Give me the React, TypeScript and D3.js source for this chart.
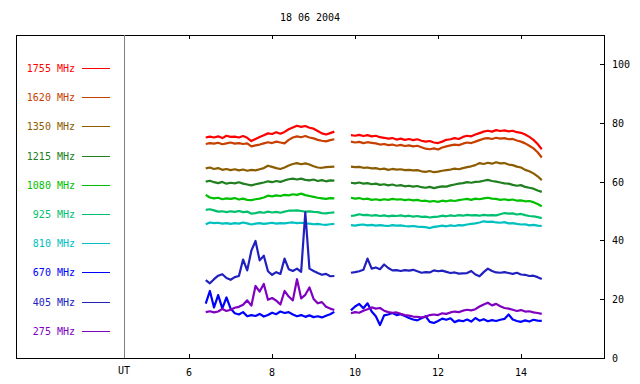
import React from 'react';
import * as d3 from 'd3';

// time axis (UT hours) for the two observing segments
const timesA = [6.4, 6.5, 6.6, 6.7, 6.8, 6.9, 7.0, 7.1, 7.2, 7.3, 7.4, 7.5, 7.6, 7.7, 7.8, 7.9, 8.0, 8.1, 8.2, 8.3, 8.4, 8.5, 8.6, 8.7, 8.8, 8.9, 9.0, 9.1, 9.2, 9.3, 9.4, 9.5];
const timesB = [9.9, 10.0, 10.1, 10.2, 10.3, 10.4, 10.5, 10.6, 10.7, 10.8, 10.9, 11.0, 11.1, 11.2, 11.3, 11.4, 11.5, 11.6, 11.7, 11.8, 11.9, 12.0, 12.1, 12.2, 12.3, 12.4, 12.5, 12.6, 12.7, 12.8, 12.9, 13.0, 13.1, 13.2, 13.3, 13.4, 13.5, 13.6, 13.7, 13.8, 13.9, 14.0, 14.1, 14.2, 14.3, 14.4, 14.5];

const xTicks = [6, 8, 10, 12, 14];
const yTicks = [0, 20, 40, 60, 80, 100];

const freqs = ['1755 MHz', '1620 MHz', '1350 MHz', '1215 MHz', '1080 MHz', '925 MHz', '810 MHz', '670 MHz', '405 MHz', '275 MHz'];
const colors = ['#ff0000', '#c84000', '#8c5c00', '#208020', '#00c000', '#00c070', '#00c0c0', '#0000ff', '#2020c0', '#8000c0'];

const f1755A = [75.0, 75.3, 75.0, 75.4, 74.8, 75.6, 75.2, 75.3, 75.0, 75.5, 74.9, 73.8, 74.5, 75.2, 75.8, 76.4, 76.2, 76.8, 76.3, 76.9, 77.8, 78.4, 79.0, 78.6, 78.9, 78.3, 78.0, 77.2, 76.4, 76.0, 76.5, 77.0];
const f1755B = [75.8, 75.6, 75.9, 75.5, 75.8, 75.4, 75.6, 75.1, 74.9, 74.6, 74.8, 74.3, 74.6, 74.2, 74.5, 74.1, 74.4, 73.9, 73.6, 73.8, 73.3, 73.1, 73.6, 74.2, 74.4, 74.8, 74.5, 75.2, 75.6, 75.4, 76.0, 76.5, 77.0, 77.3, 77.0, 77.5, 77.2, 77.4, 77.1, 77.3, 76.8, 76.6, 76.0, 75.2, 74.2, 72.8, 71.0];

const f1620A = [72.8, 73.1, 72.9, 73.2, 72.7, 73.0, 73.3, 72.9, 73.1, 72.8, 73.0, 72.0, 72.3, 72.6, 73.0, 73.4, 73.1, 73.6, 73.3, 73.0, 74.2, 75.0, 75.4, 75.1, 75.5, 75.0, 74.7, 74.2, 73.9, 73.7, 74.1, 74.4];
const f1620B = [73.6, 73.3, 73.5, 73.1, 73.4, 73.2, 73.0, 72.6, 72.8, 72.4, 72.6, 72.2, 72.5, 72.1, 72.3, 72.0, 72.2, 71.7, 71.2, 71.0, 71.3, 70.9, 71.6, 72.0, 72.3, 72.6, 72.4, 72.9, 73.3, 73.1, 73.6, 74.1, 74.6, 74.8, 74.5, 74.9, 74.6, 74.8, 74.4, 74.5, 74.0, 73.6, 73.0, 72.2, 71.3, 70.0, 68.2];

const f1350A = [64.5, 64.8, 64.3, 64.6, 64.0, 64.3, 63.9, 64.2, 63.8, 64.1, 63.7, 64.0, 63.8, 64.2, 64.6, 65.4, 65.0, 64.6, 64.3, 64.8, 65.5, 66.0, 66.3, 65.9, 66.2, 65.8, 65.2, 64.8, 64.7, 64.9, 65.0, 65.1];
const f1350B = [65.1, 64.9, 65.0, 64.7, 64.8, 64.5, 64.6, 64.2, 64.4, 64.0, 64.3, 64.1, 64.2, 63.9, 64.0, 63.8, 63.9, 63.5, 63.3, 63.6, 63.2, 63.4, 63.7, 63.9, 64.1, 64.4, 64.2, 64.6, 64.9, 65.2, 65.6, 66.3, 66.0, 66.4, 66.1, 66.6, 66.2, 66.3, 65.8, 65.6, 65.1, 64.8, 64.0, 63.5, 62.8, 61.8, 60.5];

const f1215A = [60.0, 60.3, 59.8, 59.5, 59.9, 59.3, 59.6, 59.4, 59.8, 59.3, 59.0, 58.7, 59.1, 59.4, 59.7, 60.1, 59.8, 60.2, 59.9, 60.4, 60.8, 61.0, 60.7, 61.0, 60.6, 60.4, 60.7, 60.2, 60.5, 60.1, 60.4, 60.3];
const f1215B = [59.6, 59.4, 59.7, 59.3, 59.5, 59.1, 59.3, 58.9, 59.1, 58.7, 59.0, 58.6, 58.8, 58.4, 58.6, 58.3, 58.5, 58.1, 57.9, 58.2, 57.8, 58.1, 58.4, 58.3, 58.7, 59.0, 59.3, 59.5, 59.8, 59.6, 59.9, 60.0, 60.3, 60.6, 60.2, 60.0, 59.7, 59.4, 59.3, 58.9, 58.6, 58.8, 58.2, 57.9, 57.6, 57.0, 56.5];

const f1080A = [55.5, 54.6, 54.3, 54.5, 54.0, 54.3, 54.1, 54.4, 53.9, 54.2, 53.8, 53.7, 54.0, 54.2, 54.6, 55.2, 55.0, 55.3, 55.1, 55.5, 55.3, 55.7, 55.5, 55.9, 55.4, 55.1, 54.8, 54.5, 54.3, 54.1, 54.4, 54.3];
const f1080B = [54.5, 54.2, 54.4, 54.0, 54.2, 53.8, 54.0, 53.7, 54.0, 53.8, 54.1, 53.9, 54.0, 53.7, 53.9, 53.6, 53.8, 53.4, 53.5, 53.2, 53.4, 53.1, 53.5, 53.3, 53.6, 53.4, 53.7, 53.9, 54.1, 53.8, 54.2, 54.0, 54.3, 54.5, 54.2, 54.1, 53.8, 54.0, 53.7, 53.9, 53.5, 53.6, 53.3, 53.4, 53.0, 52.4, 51.6];

const f925A = [50.4, 50.6, 50.2, 49.8, 49.9, 49.6, 49.9, 49.7, 50.0, 49.6, 49.8, 49.1, 49.3, 49.6, 49.4, 49.8, 49.5, 49.7, 49.4, 49.8, 50.1, 50.1, 50.2, 50.0, 49.8, 49.9, 49.7, 49.6, 49.3, 49.2, 49.4, 49.5];
const f925B = [48.3, 48.5, 48.9, 48.6, 48.7, 48.4, 48.6, 48.3, 48.5, 48.2, 48.4, 48.3, 48.5, 48.2, 48.4, 48.1, 48.3, 48.0, 48.1, 47.8, 48.0, 48.1, 48.4, 48.2, 48.5, 48.3, 48.6, 48.4, 48.7, 48.5, 48.6, 48.4, 48.7, 48.5, 48.6, 48.5, 48.9, 49.3, 49.1, 49.2, 48.8, 49.0, 48.6, 48.3, 48.2, 47.9, 47.6];

const f810A = [45.5, 46.1, 45.9, 46.0, 45.7, 45.9, 45.6, 45.9, 45.7, 46.1, 45.8, 45.4, 45.7, 45.9, 45.6, 45.8, 46.0, 45.7, 45.9, 45.8, 46.0, 46.1, 45.9, 46.0, 45.8, 45.7, 45.5, 45.6, 45.4, 45.3, 45.5, 45.6];
const f810B = [45.2, 45.0, 45.3, 45.4, 45.1, 45.3, 45.0, 45.2, 45.0, 44.9, 45.2, 45.0, 45.1, 44.9, 44.8, 44.9, 44.7, 44.6, 44.5, 44.2, 44.6, 44.8, 45.0, 44.8, 45.1, 44.9, 45.2, 45.1, 45.4, 45.6, 45.8, 46.1, 46.5, 46.3, 46.4, 46.1, 46.0, 46.2, 45.8, 45.9, 45.6, 45.4, 45.5, 45.1, 45.3, 45.0, 44.9];

const f670A = [18.5, 22.8, 17.2, 21.4, 16.9, 20.6, 16.8, 15.2, 14.8, 15.6, 14.2, 14.6, 14.3, 15.0, 14.1, 14.6, 15.4, 14.9, 15.8, 15.3, 15.6, 14.8, 14.2, 14.6, 14.0, 14.5, 13.9, 14.2, 13.8, 14.4, 14.9, 15.7];
const f670B = [16.2, 17.5, 18.4, 16.9, 18.6, 15.8, 14.2, 11.2, 14.5, 14.8, 15.3, 14.6, 14.9, 14.3, 13.6, 13.1, 12.8, 13.5, 14.2, 12.3, 11.9, 12.6, 13.4, 13.0, 13.5, 12.2, 12.8, 12.5, 13.1, 12.4, 13.6, 12.7, 13.2, 12.5, 12.9, 12.6, 13.0, 13.3, 14.8, 13.1, 12.6, 12.3, 12.8, 12.4, 13.0, 12.7, 12.6];

const f405A = [26.5, 25.4, 26.8, 28.0, 28.5, 27.2, 26.6, 27.5, 27.9, 33.5, 29.8, 36.5, 39.8, 33.2, 34.8, 29.5, 28.3, 29.2, 28.6, 33.8, 30.2, 29.6, 30.4, 29.3, 49.5, 30.4, 29.6, 28.9, 28.3, 28.6, 27.8, 27.9];
const f405B = [29.0, 29.2, 29.5, 30.0, 33.8, 30.4, 30.8, 30.2, 31.8, 30.6, 29.8, 29.9, 29.6, 29.9, 29.7, 30.0, 29.5, 29.0, 29.2, 29.1, 29.8, 29.5, 29.7, 29.3, 28.9, 29.1, 28.7, 28.8, 28.9, 29.6, 28.4, 27.8, 29.2, 30.4, 29.6, 29.1, 29.0, 29.2, 28.9, 28.6, 29.0, 28.4, 28.3, 27.9, 28.0, 27.5, 26.9];

const f275A = [15.6, 15.9, 15.5, 15.8, 16.7, 16.0, 16.4, 17.1, 17.4, 18.1, 19.6, 17.8, 24.5, 22.6, 25.2, 19.8, 20.4, 19.5, 18.2, 22.8, 20.9, 19.6, 26.8, 20.3, 21.5, 24.0, 20.1, 18.6, 19.0, 17.4, 16.8, 16.3];
const f275B = [15.2, 15.6, 15.4, 16.1, 16.6, 17.2, 16.8, 17.0, 16.1, 15.6, 15.4, 15.5, 15.0, 14.6, 14.4, 14.1, 14.0, 13.8, 14.0, 14.6, 14.8, 14.6, 15.2, 15.0, 15.5, 15.8, 15.6, 16.1, 16.4, 16.2, 16.6, 17.5, 18.2, 18.8, 17.9, 18.4, 17.6, 17.0, 16.8, 16.4, 16.0, 16.3, 15.8, 15.9, 15.5, 15.3, 15.0];

const seriesA = [f1755A, f1620A, f1350A, f1215A, f1080A, f925A, f810A, f670A, f405A, f275A];
const seriesB = [f1755B, f1620B, f1350B, f1215B, f1080B, f925B, f810B, f670B, f405B, f275B];

const W = 640;
const H = 384;
const FONT = '"DejaVu Sans Mono", monospace';

export default function App() {
  const frame = { left: 16, right: 604, top: 35, bottom: 358 };
  const utX = 124;

  const x = d3.scaleLinear().domain([4.43, 16]).range([utX, frame.right]);
  const y = d3.scaleLinear().domain([0, 100]).range([358, 64]);

  const line = d3.line<[number, number]>()
    .x(d => x(d[0]))
    .y(d => y(d[1]));

  const legendY = (i: number) => 68 + i * 29.2;

  return (
    <svg width={W} height={H} style={{ position: 'absolute', left: 0, top: 0, background: '#fff' }}
      fontFamily={FONT} fontSize={10}>
      <rect x={0} y={0} width={W} height={H} fill="#fff" />
      <text x={310} y={21} textAnchor="middle" fill="#000">18 06 2004</text>

      {/* frame */}
      <rect x={frame.left + 0.5} y={frame.top + 0.5} width={frame.right - frame.left} height={frame.bottom - frame.top}
        fill="none" stroke="#000" strokeWidth={1} />
      <line x1={utX + 0.5} x2={utX + 0.5} y1={frame.top} y2={frame.bottom} stroke="#808080" strokeWidth={1} />

      {/* x ticks top and bottom */}
      {xTicks.map(t => (
        <g key={t}>
          <line x1={Math.round(x(t)) + 0.5} x2={Math.round(x(t)) + 0.5} y1={frame.top} y2={frame.top + 4} stroke="#000" />
          <line x1={Math.round(x(t)) + 0.5} x2={Math.round(x(t)) + 0.5} y1={frame.bottom - 4} y2={frame.bottom} stroke="#000" />
          <text x={x(t)} y={376} textAnchor="middle" fill="#000">{t}</text>
        </g>
      ))}
      <text x={utX} y={374} textAnchor="middle" fill="#000">UT</text>

      {/* y axis on the right */}
      {yTicks.map(t => (
        <g key={t}>
          <line x1={frame.right - 4} x2={frame.right} y1={Math.round(y(t)) + 0.5} y2={Math.round(y(t)) + 0.5} stroke="#000" />
          <text x={612} y={y(t) + 4} fill="#000">{t}</text>
        </g>
      ))}

      {/* legend */}
      {freqs.map((f, i) => (
        <g key={f}>
          <text x={75} y={legendY(i) + 4} textAnchor="end" fill={colors[i]}>{f}</text>
          <line x1={82} x2={110} y1={Math.round(legendY(i)) + 0.5} y2={Math.round(legendY(i)) + 0.5} stroke={colors[i]} />
        </g>
      ))}

      {/* traces */}
      {seriesA.map((vals, i) => (
        <path key={'a' + i} d={line(timesA.map((t, k) => [t, vals[k]]))!} fill="none" stroke={colors[i]}
          strokeWidth={2.2} strokeLinejoin="round" />
      ))}
      {seriesB.map((vals, i) => (
        <path key={'b' + i} d={line(timesB.map((t, k) => [t, vals[k]]))!} fill="none" stroke={colors[i]}
          strokeWidth={2.2} strokeLinejoin="round" />
      ))}
    </svg>
  );
}
